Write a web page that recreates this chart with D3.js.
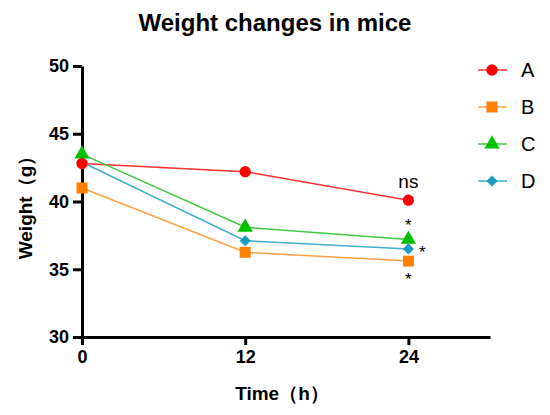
<!DOCTYPE html>
<html>
<head>
<meta charset="utf-8">
<script src="https://cdn.jsdelivr.net/npm/d3@7"></script>
<style>
  body { margin: 0; background: #fff; }
  svg { font-family: "Liberation Sans", Arial, sans-serif; }
</style>
</head>
<body>
<svg id="chart" width="550" height="415"></svg>
<script>
// data
var times = [0, 12, 24];
var groups = ["A", "B", "C", "D"];
var weightA = [42.8, 42.2, 40.1];
var weightB = [41.0, 36.25, 35.6];
var weightC = [43.5, 38.1, 37.2];
var weightD = [42.9, 37.1, 36.5];
var yTicks = [30, 35, 40, 45, 50];
var xTicks = [0, 12, 24];
var marks = ["ns", "*", "*", "*"];

var colors = ["#ff0000", "#ff8000", "#00c000", "#1c9cbc"];
var lineColors = ["#ff3030", "#ffa040", "#40c840", "#40acd0"];
// diamond = square turned 45 degrees
var shapes = [d3.symbolCircle, d3.symbolSquare, d3.symbolTriangle, d3.symbolSquare];
var turns = [0, 0, 0, 45];
var sizes = [100, 121, 100, 62];
var series = [weightA, weightB, weightC, weightD];

var svg = d3.select("#chart");

var x = d3.scaleLinear().domain([0, 30]).range([82, 490]);
var y = d3.scaleLinear().domain([30, 50]).range([337, 66]);

// title
svg.append("text")
    .attr("x", 275).attr("y", 31)
    .attr("text-anchor", "middle")
    .style("font-size", "24px").style("font-weight", "bold")
    .text("Weight changes in mice");

// axes
var xAxis = svg.append("g")
    .attr("transform", "translate(0," + y(30) + ")")
    .call(d3.axisBottom(x).tickValues(xTicks).tickSize(8).tickPadding(5).tickSizeOuter(0));
var yAxis = svg.append("g")
    .attr("transform", "translate(" + x(0) + ",0)")
    .call(d3.axisLeft(y).tickValues(yTicks).tickSize(9).tickPadding(4).tickSizeOuter(0));

[xAxis, yAxis].forEach(function (g) {
    g.select(".domain").attr("stroke", "#000").attr("stroke-width", 3);
    g.selectAll(".tick line").attr("stroke", "#000").attr("stroke-width", 3);
    g.selectAll(".tick text")
        .attr("fill", "#000")
        .style("font-size", "18px").style("font-weight", "bold")
        .style("font-family", "'Liberation Sans', Arial, sans-serif");
});

// axis titles
svg.append("text")
    .attr("x", 282).attr("y", 400)
    .attr("text-anchor", "middle")
    .style("font-size", "19px").style("font-weight", "bold")
    .text("Time（h）");
svg.append("text")
    .attr("transform", "translate(32," + 203 + ") rotate(-90)")
    .attr("text-anchor", "middle")
    .style("font-size", "19px").style("font-weight", "bold")
    .text("Weight（g）");

// lines and markers
var line = d3.line()
    .x(function (d, i) { return x(times[i]); })
    .y(function (d) { return y(d); });

series.forEach(function (vals, k) {
    svg.append("path")
        .datum(vals)
        .attr("fill", "none")
        .attr("stroke", lineColors[k])
        .attr("stroke-width", 1.5)
        .attr("d", line);
});

// draw markers with D on top of C, A last like the picture
[3, 1, 2, 0].forEach(function (k) {
    svg.selectAll(null)
        .data(series[k])
        .enter().append("path")
        .attr("transform", function (d, i) {
            return "translate(" + x(times[i]) + "," + y(d) + ") rotate(" + turns[k] + ")";
        })
        .attr("d", d3.symbol().type(shapes[k]).size(sizes[k]))
        .attr("fill", colors[k]);
});

// significance labels at 24 h
var last = times.length - 1;
svg.append("text")
    .attr("x", x(times[last])).attr("y", y(weightA[last]) - 12)
    .attr("text-anchor", "middle")
    .style("font-size", "19px")
    .text(marks[0]);
svg.append("text")
    .attr("x", x(times[last])).attr("y", y(weightC[last]) - 8)
    .attr("text-anchor", "middle")
    .style("font-size", "17px")
    .text(marks[2]);
svg.append("text")
    .attr("x", x(times[last]) + 14).attr("y", y(weightD[last]) + 9)
    .attr("text-anchor", "middle")
    .style("font-size", "17px")
    .text(marks[3]);
svg.append("text")
    .attr("x", x(times[last])).attr("y", y(weightB[last]) + 24)
    .attr("text-anchor", "middle")
    .style("font-size", "17px")
    .text(marks[1]);

// legend
var legend = svg.append("g");
groups.forEach(function (name, k) {
    var ly = 70 + k * 37;
    legend.append("line")
        .attr("x1", 478).attr("x2", 507)
        .attr("y1", ly).attr("y2", ly)
        .attr("stroke", lineColors[k]).attr("stroke-width", 1.5);
    legend.append("path")
        .attr("transform", "translate(492," + ly + ") rotate(" + turns[k] + ")")
        .attr("d", d3.symbol().type(shapes[k]).size(sizes[k]))
        .attr("fill", colors[k]);
    legend.append("text")
        .attr("x", 521).attr("y", ly + 7)
        .style("font-size", "20px")
        .text(name);
});
</script>
</body>
</html>
